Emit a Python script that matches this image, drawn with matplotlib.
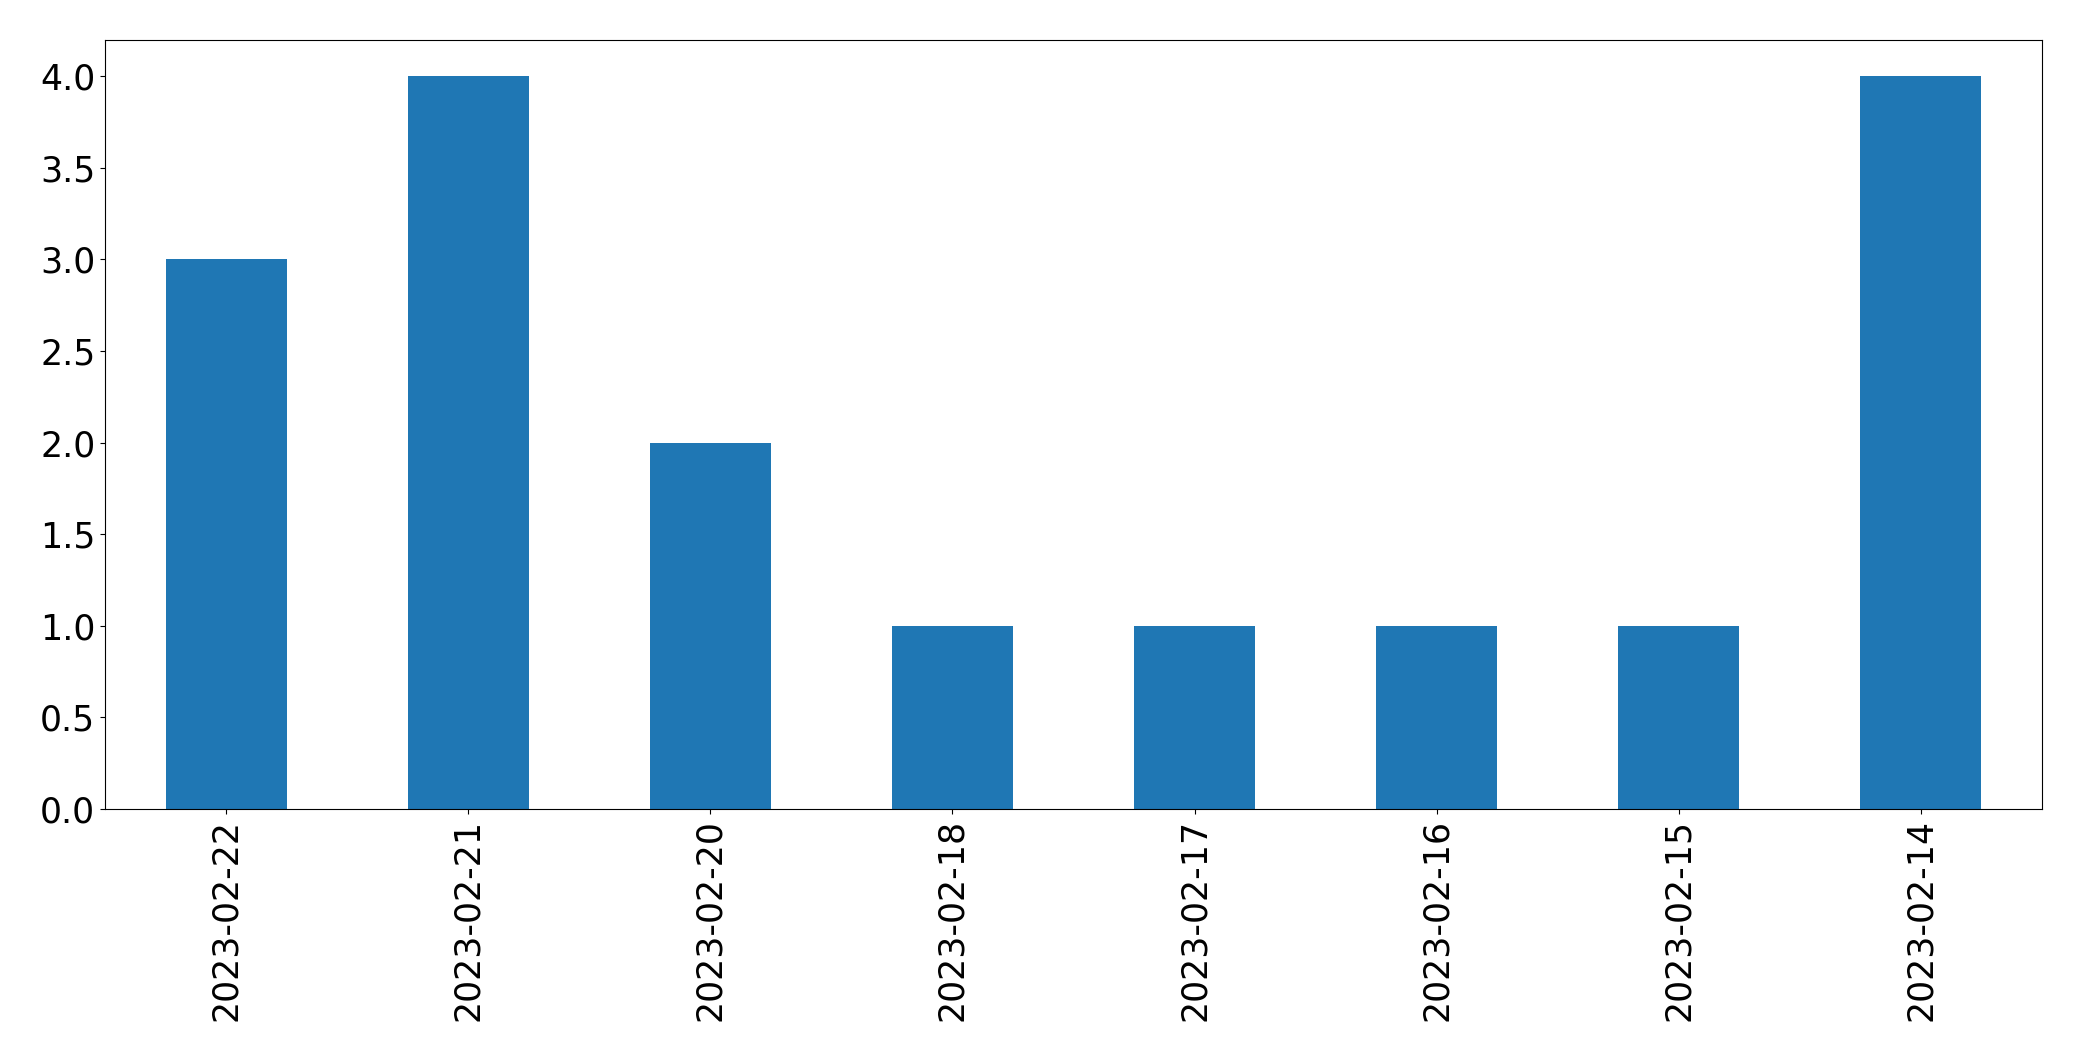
import matplotlib
matplotlib.use("Agg")
import matplotlib.pyplot as plt
import pandas as pd

dates = ["2023-02-22", "2023-02-21", "2023-02-20", "2023-02-18",
         "2023-02-17", "2023-02-16", "2023-02-15", "2023-02-14"]
counts = [3, 4, 2, 1, 1, 1, 1, 4]

s = pd.Series(counts, index=dates)

fig = plt.figure(figsize=(20.82, 10.61), dpi=100)
ax = fig.add_axes([105/2082, 1 - 809/1061, (2042-105)/2082, (809-39.5)/1061])
s.plot(kind="bar", ax=ax, color="#1f77b4", width=0.5)
ax.tick_params(axis="both", labelsize=25)
ax.set_ylim(0, 4.2)
fig.savefig("out.png", dpi=100)
